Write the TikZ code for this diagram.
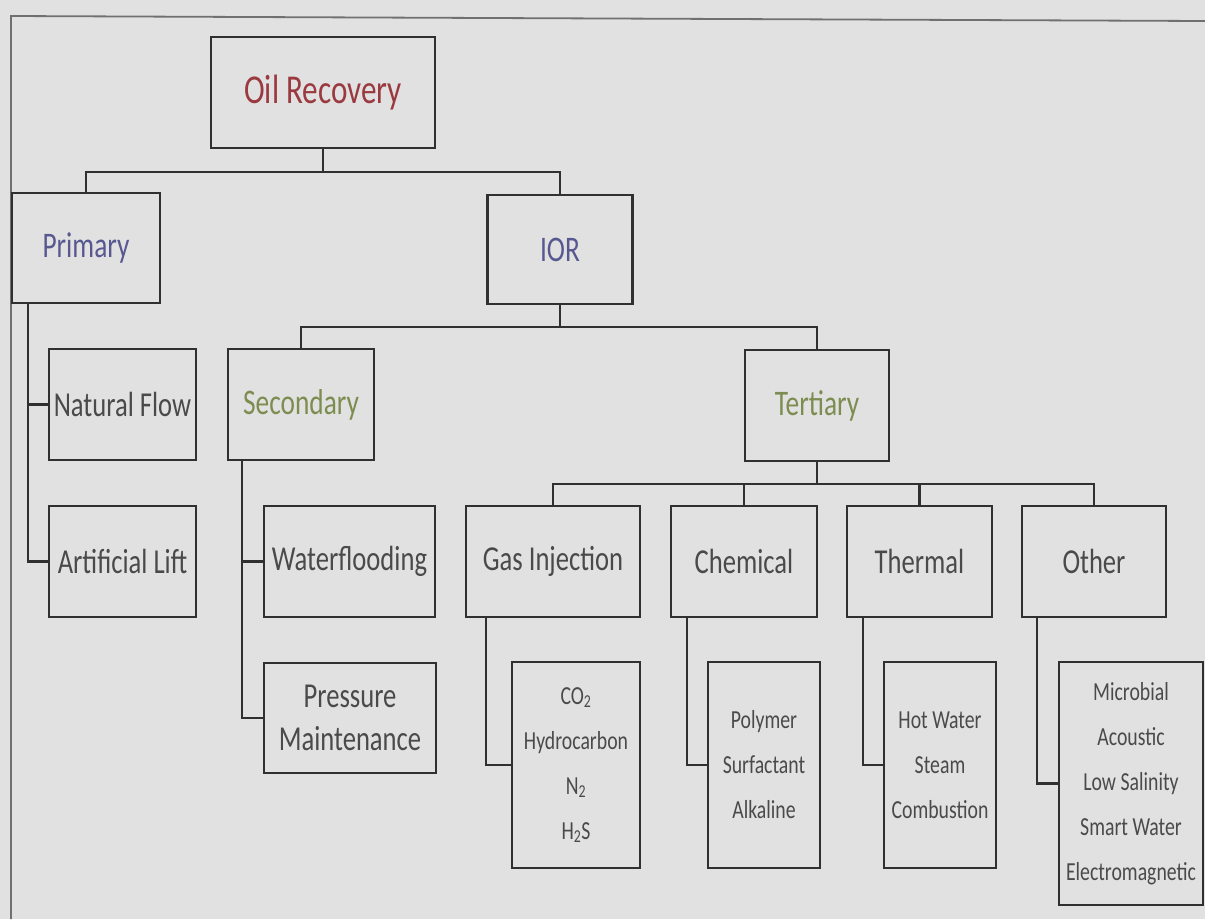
\documentclass[tikz,border=0pt]{standalone}
\usepackage{fontspec}
\setmainfont{Carlito}[FakeStretch=0.76]
\definecolor{bg}{HTML}{E1E1E1}
\definecolor{boxline}{HTML}{303030}
\definecolor{txt}{HTML}{4A4A4A}
\definecolor{redt}{HTML}{9A3A40}
\definecolor{bluet}{HTML}{585890}
\definecolor{greent}{HTML}{7D8C50}
\definecolor{frame}{HTML}{707070}
\tikzset{
  box/.style={draw=boxline, line width=2.6pt, inner sep=0pt, align=center, text=txt,
    font=\fontsize{35}{43}\selectfont},
  leaf/.style={box, font=\fontsize{26}{45}\selectfont},
  conn/.style={draw=boxline, line width=2.2pt},
}
\begin{document}
\begin{tikzpicture}[x=1pt,y=-1pt]
\fill[bg] (0,0) rectangle (1205,919);
\useasboundingbox (0,0) rectangle (1205,919);
\draw[frame, line width=1.8pt] (11,919) -- (11,16) -- (1205,21);

% nodes
\node[box, minimum width=224, minimum height=111, text=redt, font=\fontsize{41}{48}\selectfont] (oil) at (323,92.5) {Oil Recovery};
\node[box, minimum width=148, minimum height=110, text=bluet, font=\fontsize{36}{43}\selectfont] (prim) at (86,248) {Primary};
\node[box, minimum width=145, minimum height=109, text=bluet, font=\fontsize{36}{43}\selectfont] (ior) at (560,249.5) {IOR};
\node[box, minimum width=146, minimum height=111, text=greent, font=\fontsize{36}{43}\selectfont] (sec) at (301,404.5) {Secondary};
\node[box, minimum width=144, minimum height=111, text=greent, font=\fontsize{36}{43}\selectfont] (ter) at (817,405.5) {Tertiary};

\node[box, minimum width=147, minimum height=111] (nat) at (122.5,404.5) {Natural Flow};
\node[box, minimum width=147, minimum height=111] (art) at (122.5,561.5) {Artificial Lift};
\node[box, minimum width=171, minimum height=111] (wf) at (349.5,561.5) {Waterflooding};
\node[box, minimum width=172, minimum height=110] (pm) at (350,718) {Pressure\\Maintenance};

\node[box, minimum width=174, minimum height=111] (gas) at (553,561.5) {Gas Injection};
\node[box, minimum width=146, minimum height=111] (chem) at (744,561.5) {Chemical};
\node[box, minimum width=145, minimum height=111] (therm) at (919.5,561.5) {Thermal};
\node[box, minimum width=144, minimum height=111] (oth) at (1094,561.5) {Other};

\node[leaf, minimum width=128, minimum height=206] (l1) at (576,765) {CO\textsubscript{2}\\Hydrocarbon\\N\textsubscript{2}\\H\textsubscript{2}S};
\node[leaf, minimum width=112, minimum height=206] (l2) at (764,765) {Polymer\\Surfactant\\Alkaline};
\node[leaf, minimum width=112, minimum height=206] (l3) at (940,765) {Hot Water\\Steam\\Combustion};
\node[leaf, minimum width=144, minimum height=243] (l4) at (1131,783.5) {Microbial\\Acoustic\\Low Salinity\\Smart Water\\Electromagnetic};

% bus coordinates
\coordinate (b1) at (0,172);
\coordinate (b2) at (0,327);
\coordinate (b3) at (0,484);
\coordinate (s1) at (28,0);
\coordinate (s2) at (242,0);
\coordinate (s3) at (486,0);
\coordinate (s4) at (687,0);
\coordinate (s5) at (863,0);
\coordinate (s6) at (1037,0);

% connectors
\draw[conn] (oil.south) -- (oil.south |- b1);
\draw[conn] (prim.north) |- (ior.north |- b1) -- (ior.north);
\draw[conn] (ior.south) -- (ior.south |- b2);
\draw[conn] (sec.north) |- (ter.north |- b2) -- (ter.north);
\draw[conn] (ter.south) -- (ter.south |- b3);
\draw[conn] (gas.north) |- (oth.north |- b3) -- (oth.north);
\draw[conn] (chem.north) -- (chem.north |- b3);
\draw[conn] (therm.north) -- (therm.north |- b3);

\draw[conn] (prim.south -| s1) |- (art.west);
\draw[conn] (prim.south -| s1) |- (nat.west);
\draw[conn] (sec.south -| s2) |- (pm.west);
\draw[conn] (sec.south -| s2) |- (wf.west);
\draw[conn] (gas.south -| s3) |- (l1.west);
\draw[conn] (chem.south -| s4) |- (l2.west);
\draw[conn] (therm.south -| s5) |- (l3.west);
\draw[conn] (oth.south -| s6) |- (l4.west);
\end{tikzpicture}
\end{document}
